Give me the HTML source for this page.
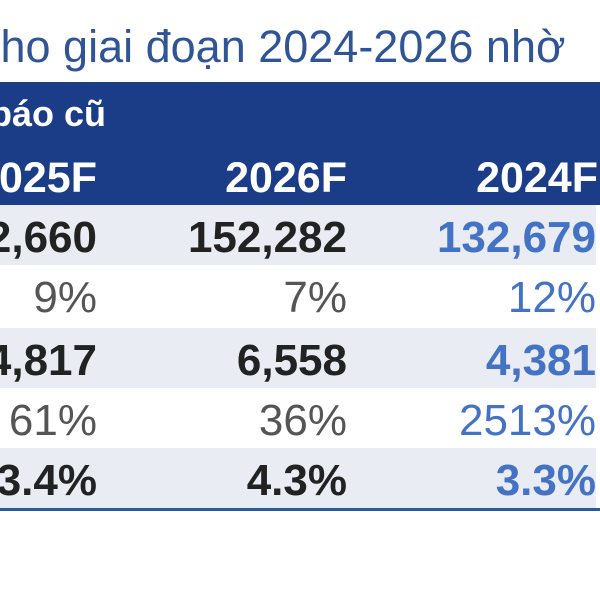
<!DOCTYPE html>
<html><head><meta charset="utf-8"><style>
body{margin:0;width:600px;height:600px;overflow:hidden;background:#fff;position:relative;font-family:"Liberation Sans",Arial,sans-serif}
.a{position:absolute;white-space:nowrap}
.row{position:absolute;left:0;width:596px;height:60px}
.r{position:absolute;text-align:right;white-space:nowrap;line-height:1}
</style></head><body>
<div class="a" style="left:-22px;top:24px;font-size:45px;color:#2f5597;line-height:1">cho giai đoạn 2024-2026 nhờ</div>
<div class="a" style="left:0;top:82px;width:600px;height:123px;background:#1b3d87"></div>
<div class="a" style="left:-10px;top:96px;font-size:36px;font-weight:bold;color:#fff;line-height:1">báo cũ</div>
<div class="r" style="right:503px;top:157px;font-size:43px;font-weight:bold;color:#fff">2025F</div>
<div class="r" style="right:253px;top:157px;font-size:43px;font-weight:bold;color:#fff">2026F</div>
<div class="r" style="right:2px;top:157px;font-size:43px;font-weight:bold;color:#fff">2024F</div>
<div id="rows"></div>
<div class="a" style="left:0;top:508px;width:600px;height:3px;background:#2a5a9e"></div>
<script>
const rowValues=[["2,660","152,282","132,679"],["9%","7%","12%"],["4,817","6,558","4,381"],["61%","36%","2513%"],["3.4%","4.3%","3.3%"]];
const rowBold=[true,false,true,false,true];
const rowTops=[205,265,328,388,448];
const rights=[503,253,4];
const c=document.getElementById('rows');
rowValues.forEach((vals,i)=>{
  const r=document.createElement('div');
  r.className='row';
  
  
  r.style.top=rowTops[i]+'px';
  r.style.height=(i<4?rowTops[i+1]-rowTops[i]:60)+'px';
  r.style.background=i%2===0?'#e9ecf2':'#fff';
  c.appendChild(r);
  vals.forEach((v,j)=>{
    const s=document.createElement('div');
    s.className='r';
    
    
    s.textContent=v;
    s.style.right=rights[j]+'px';
    s.style.top=(rowTops[i]+11)+'px';
    s.style.fontSize='44px';
    s.style.fontWeight=rowBold[i]?'bold':'normal';
    s.style.color=j===2?'#4472c4':(rowBold[i]?'#222':'#555');
    document.body.appendChild(s);
  });
});
</script>
</body></html>
